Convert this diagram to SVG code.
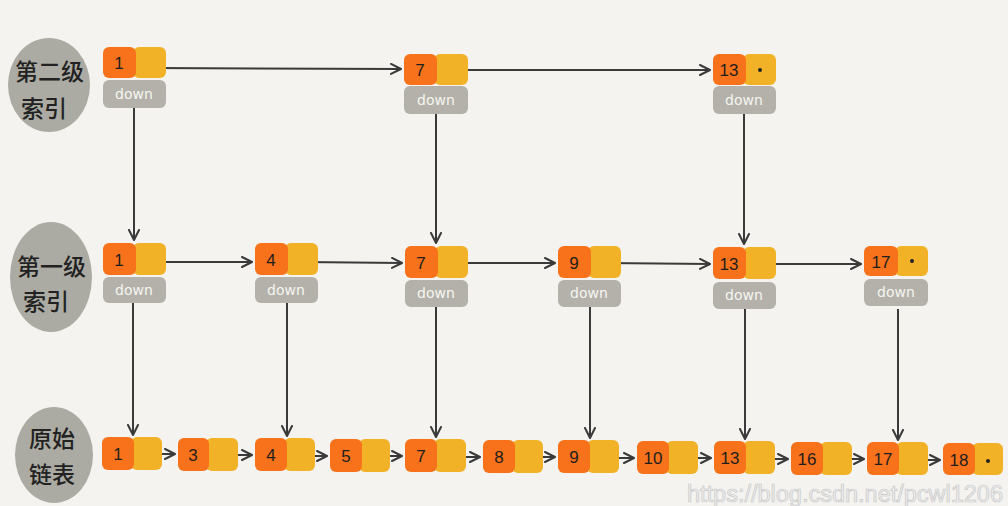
<svg xmlns="http://www.w3.org/2000/svg" width="1008" height="506" viewBox="0 0 1008 506">
<defs>
<marker id="ah" markerUnits="userSpaceOnUse" markerWidth="14" markerHeight="14" refX="11" refY="6" orient="auto">
<path d="M1,1 L11,6 L1,11" fill="none" stroke="#3a3a3a" stroke-width="2" stroke-linecap="round" stroke-linejoin="round"/>
</marker>
</defs>
<style>
.bg{fill:#f4f3ef}
.blob{fill:#acaba3}
.lbl{font-family:"Noto Sans CJK SC","Noto Sans CJK JP",sans-serif;font-size:23px;font-weight:500;fill:#222}
.o{fill:#f7721a}
.y{fill:#f2b228}
.d{fill:#b3b1a9}
.num{font-family:"Liberation Sans",sans-serif;font-size:17px;fill:#1e1e1e;text-anchor:middle}
.dn{font-family:"DejaVu Sans",sans-serif;font-size:14px;fill:#f6f6f1;text-anchor:middle}
.dot{fill:#222}
.c line{stroke:#3a3a3a;stroke-width:2;fill:none;marker-end:url(#ah)}
.wm{font-family:"Liberation Sans",sans-serif;font-size:23px;fill:#efefef;stroke:#c8c8c8;stroke-width:0.7}
</style>
<rect class="bg" x="0" y="0" width="1008" height="506"/>

<g id="label-level2">
<ellipse class="blob" cx="49" cy="85" rx="41" ry="47"/>
<text class="lbl" x="15" y="80">第二级</text>
<text class="lbl" x="21" y="117">索引</text>
</g>
<g id="label-level1">
<ellipse class="blob" cx="51" cy="277" rx="41" ry="55"/>
<text class="lbl" x="17" y="275">第一级</text>
<text class="lbl" x="23" y="310">索引</text>
</g>
<g id="label-base">
<ellipse class="blob" cx="54" cy="455" rx="39" ry="48"/>
<text class="lbl" x="29" y="447">原始</text>
<text class="lbl" x="29" y="483">链表</text>
</g>

<g class="c" id="connectors">
<line x1="150" y1="68" x2="401" y2="69"/>
<line x1="452" y1="70" x2="710" y2="70"/>
<line x1="150" y1="262" x2="252" y2="262"/>
<line x1="302" y1="262" x2="402" y2="263"/>
<line x1="452" y1="263" x2="555" y2="263"/>
<line x1="605" y1="263" x2="710" y2="264"/>
<line x1="760" y1="264" x2="861" y2="264"/>
<line x1="148" y1="454" x2="175" y2="454"/>
<line x1="223" y1="455" x2="252" y2="455"/>
<line x1="300" y1="456" x2="327" y2="456"/>
<line x1="375" y1="456" x2="402" y2="456"/>
<line x1="452" y1="457" x2="480" y2="457"/>
<line x1="528" y1="457" x2="555" y2="457"/>
<line x1="605" y1="458" x2="634" y2="458"/>
<line x1="683" y1="458" x2="711" y2="458"/>
<line x1="760" y1="459" x2="788" y2="459"/>
<line x1="837" y1="459" x2="864" y2="459"/>
<line x1="913" y1="460" x2="940" y2="460"/>
<line x1="134" y1="108" x2="134" y2="240"/>
<line x1="436" y1="114" x2="436" y2="243"/>
<line x1="744" y1="114" x2="744" y2="244"/>
<line x1="133" y1="303" x2="133" y2="435"/>
<line x1="287" y1="303" x2="287" y2="436"/>
<line x1="436" y1="307" x2="436" y2="437"/>
<line x1="590" y1="307" x2="590" y2="438"/>
<line x1="745" y1="309" x2="745" y2="439"/>
<line x1="898" y1="309" x2="898" y2="440"/>
</g>

<g id="t1"><rect class="y" x="133" y="47" width="33" height="31" rx="6"/><rect class="o" x="103" y="47" width="33" height="31" rx="6"/><text class="num" x="119" y="69">1</text><rect class="d" x="103" y="80" width="63" height="28" rx="6"/><text class="dn" x="134" y="99">down</text></g>
<g id="t7"><rect class="y" x="434" y="54" width="34" height="31" rx="6"/><rect class="o" x="404" y="54" width="33" height="31" rx="6"/><text class="num" x="420" y="76">7</text><rect class="d" x="404" y="86" width="64" height="28" rx="6"/><text class="dn" x="436" y="105">down</text></g>
<g id="t13"><rect class="y" x="743" y="54" width="33" height="31" rx="6"/><rect class="o" x="713" y="54" width="33" height="31" rx="6"/><text class="num" x="729" y="76">13</text><circle class="dot" cx="760" cy="70" r="2"/><rect class="d" x="713" y="86" width="63" height="28" rx="6"/><text class="dn" x="744" y="105">down</text></g>

<g id="m1"><rect class="y" x="133" y="243" width="33" height="32" rx="6"/><rect class="o" x="103" y="243" width="33" height="32" rx="6"/><text class="num" x="119" y="266">1</text><rect class="d" x="103" y="277" width="63" height="26" rx="6"/><text class="dn" x="134" y="295">down</text></g>
<g id="m4"><rect class="y" x="285" y="243" width="33" height="32" rx="6"/><rect class="o" x="255" y="243" width="33" height="32" rx="6"/><text class="num" x="271" y="266">4</text><rect class="d" x="255" y="277" width="63" height="26" rx="6"/><text class="dn" x="286" y="295">down</text></g>
<g id="m7"><rect class="y" x="435" y="246" width="33" height="32" rx="6"/><rect class="o" x="405" y="246" width="33" height="32" rx="6"/><text class="num" x="421" y="269">7</text><rect class="d" x="405" y="280" width="63" height="27" rx="6"/><text class="dn" x="436" y="298">down</text></g>
<g id="m9"><rect class="y" x="588" y="246" width="33" height="32" rx="6"/><rect class="o" x="558" y="246" width="33" height="32" rx="6"/><text class="num" x="574" y="269">9</text><rect class="d" x="558" y="280" width="63" height="27" rx="6"/><text class="dn" x="589" y="298">down</text></g>
<g id="m13"><rect class="y" x="743" y="247" width="33" height="32" rx="6"/><rect class="o" x="713" y="247" width="33" height="32" rx="6"/><text class="num" x="729" y="270">13</text><rect class="d" x="713" y="282" width="63" height="27" rx="6"/><text class="dn" x="744" y="300">down</text></g>
<g id="m17"><rect class="y" x="895" y="246" width="33" height="30" rx="6"/><rect class="o" x="864" y="246" width="34" height="30" rx="6"/><text class="num" x="881" y="268">17</text><circle class="dot" cx="912" cy="261" r="2"/><rect class="d" x="864" y="279" width="64" height="27" rx="6"/><text class="dn" x="896" y="297">down</text></g>

<g id="b1"><rect class="y" x="131" y="437" width="31" height="33" rx="6"/><rect class="o" x="102" y="437" width="32" height="33" rx="6"/><text class="num" x="118" y="460">1</text></g>
<g id="b3"><rect class="y" x="206" y="438" width="32" height="33" rx="6"/><rect class="o" x="178" y="438" width="31" height="33" rx="6"/><text class="num" x="193" y="461">3</text></g>
<g id="b4"><rect class="y" x="284" y="438" width="31" height="33" rx="6"/><rect class="o" x="255" y="438" width="32" height="33" rx="6"/><text class="num" x="271" y="461">4</text></g>
<g id="b5"><rect class="y" x="359" y="439" width="31" height="33" rx="6"/><rect class="o" x="330" y="439" width="32" height="33" rx="6"/><text class="num" x="346" y="462">5</text></g>
<g id="b7"><rect class="y" x="434" y="439" width="32" height="33" rx="6"/><rect class="o" x="405" y="439" width="32" height="33" rx="6"/><text class="num" x="421" y="462">7</text></g>
<g id="b8"><rect class="y" x="512" y="440" width="31" height="33" rx="6"/><rect class="o" x="483" y="440" width="32" height="33" rx="6"/><text class="num" x="499" y="463">8</text></g>
<g id="b9"><rect class="y" x="587" y="440" width="32" height="33" rx="6"/><rect class="o" x="558" y="440" width="32" height="33" rx="6"/><text class="num" x="574" y="463">9</text></g>
<g id="b10"><rect class="y" x="666" y="441" width="32" height="33" rx="6"/><rect class="o" x="637" y="441" width="32" height="33" rx="6"/><text class="num" x="653" y="464">10</text></g>
<g id="b13"><rect class="y" x="743" y="441" width="32" height="33" rx="6"/><rect class="o" x="714" y="441" width="32" height="33" rx="6"/><text class="num" x="730" y="464">13</text></g>
<g id="b16"><rect class="y" x="820" y="442" width="32" height="33" rx="6"/><rect class="o" x="791" y="442" width="32" height="33" rx="6"/><text class="num" x="807" y="465">16</text></g>
<g id="b17"><rect class="y" x="896" y="442" width="32" height="33" rx="6"/><rect class="o" x="867" y="442" width="32" height="33" rx="6"/><text class="num" x="883" y="465">17</text></g>
<g id="b18"><rect class="y" x="972" y="443" width="31" height="32" rx="6"/><rect class="o" x="943" y="443" width="32" height="32" rx="6"/><text class="num" x="959" y="466">18</text><circle class="dot" cx="988" cy="461" r="2"/></g>

<text class="wm" x="687" y="502" textLength="316" lengthAdjust="spacingAndGlyphs">https://blog.csdn.net/pcwl1206</text>
</svg>
